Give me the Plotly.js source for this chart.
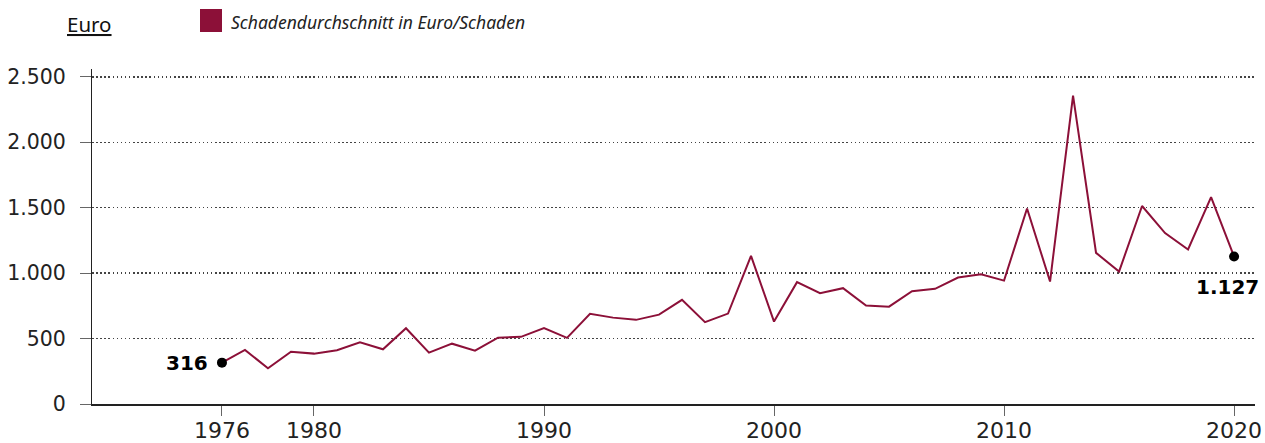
<!DOCTYPE html>
<html>
<head>
<meta charset="utf-8">
<script src="https://cdn.plot.ly/plotly-3.0.1.min.js"></script>
<style>
html,body{margin:0;padding:0;background:#fff;}
#chart{width:1265px;height:443px;}
</style>
</head>
<body>
<div id="chart"></div>
<script>
const years = [1976,1977,1978,1979,1980,1981,1982,1983,1984,1985,1986,1987,1988,1989,1990,1991,1992,1993,1994,1995,1996,1997,1998,1999,2000,2001,2002,2003,2004,2005,2006,2007,2008,2009,2010,2011,2012,2013,2014,2015,2016,2017,2018,2019,2020];
const values = [316,413,273,400,385,411,472,418,579,393,461,408,507,513,581,505,690,660,643,683,796,625,691,1132,630,931,847,885,752,744,862,880,966,992,943,1494,936,2357,1155,1012,1513,1306,1181,1581,1127];
const xTickVals = [1976,1980,1990,2000,2010,2020];
const yTickVals = [0,500,1000,1500,2000,2500];
const yTickText = ['0','500','1.000','1.500','2.000','2.500'];
const seriesName = 'Schadendurchschnitt in Euro/Schaden';
const unitLabel = 'Euro';
const firstLabel = '316';
const lastLabel = '1.127';

const lineColor = '#8c1038';
const n = years.length;

const traces = [
  {
    x: years, y: values, type: 'scatter', mode: 'lines',
    line: {color: lineColor, width: 2},
    showlegend: false, hoverinfo: 'skip'
  },
  {
    x: [years[0], years[n-1]], y: [values[0], values[n-1]],
    type: 'scatter', mode: 'markers',
    marker: {color: '#000', size: 10},
    showlegend: false, hoverinfo: 'skip'
  }
];

const layout = {
  width: 1265, height: 443,
  margin: {l: 92, r: 10, t: 69, b: 39, pad: 0},
  paper_bgcolor: '#fff', plot_bgcolor: '#fff',
  font: {family: 'DejaVu Sans', size: 20, color: '#222'},
  showlegend: false,
  xaxis: {
    range: [1970.35, 2020.91],
    tickmode: 'array', tickvals: xTickVals,
    ticks: 'outside', ticklen: 10, tickcolor: '#666', tickwidth: 1,
    showgrid: false, zeroline: false,
    showline: true, linecolor: '#222', linewidth: 1.5,
    tickfont: {family: 'DejaVu Sans', size: 22, color: '#222'},
    ticklabelstandoff: -4,
    fixedrange: true
  },
  yaxis: {
    range: [0, 2560],
    tickmode: 'array', tickvals: yTickVals, ticktext: yTickText,
    ticks: 'outside', ticklen: 11, tickcolor: '#666', tickwidth: 1,
    showgrid: true, gridcolor: '#444', gridwidth: 1.3, griddash: '1.5px,2.6px',
    zeroline: false,
    showline: true, linecolor: '#222', linewidth: 1,
    tickfont: {family: 'DejaVu Sans', size: 20.5, color: '#222'},
    ticklabelstandoff: 10,
    fixedrange: true
  },
  shapes: [
    {type: 'rect', xref: 'paper', yref: 'paper',
     x0: (200-92)/1163, x1: (222-92)/1163,
     y0: (404-32)/335, y1: (404-9)/335,
     fillcolor: lineColor, line: {width: 0}}
  ],
  annotations: [
    {xref: 'paper', yref: 'paper', x: (65-92)/1163, y: (404-24)/335,
     xanchor: 'left', yanchor: 'middle', showarrow: false,
     text: '<u>' + unitLabel + '</u>',
     font: {family: 'Noto Sans', size: 20.5, color: '#111'}},
    {xref: 'paper', yref: 'paper', x: (229-92)/1163, y: (404-22)/335,
     xanchor: 'left', yanchor: 'middle', showarrow: false,
     text: '<i>' + seriesName + '</i>',
     font: {family: 'Noto Sans', size: 17.5, color: '#222'}},
    {x: years[0], y: values[0], xref: 'x', yref: 'y',
     xanchor: 'right', yanchor: 'middle', xshift: -12, showarrow: false,
     text: '<b>' + firstLabel + '</b>',
     font: {family: 'DejaVu Sans', size: 20, color: '#000'}},
    {x: years[n-1], y: values[n-1], xref: 'x', yref: 'y',
     xanchor: 'center', yanchor: 'middle', xshift: -7, yshift: -30, showarrow: false,
     text: '<b>' + lastLabel + '</b>',
     font: {family: 'DejaVu Sans', size: 20, color: '#000'}}
  ]
};

Plotly.newPlot('chart', traces, layout, {displayModeBar: false, staticPlot: true});
</script>
</body>
</html>
